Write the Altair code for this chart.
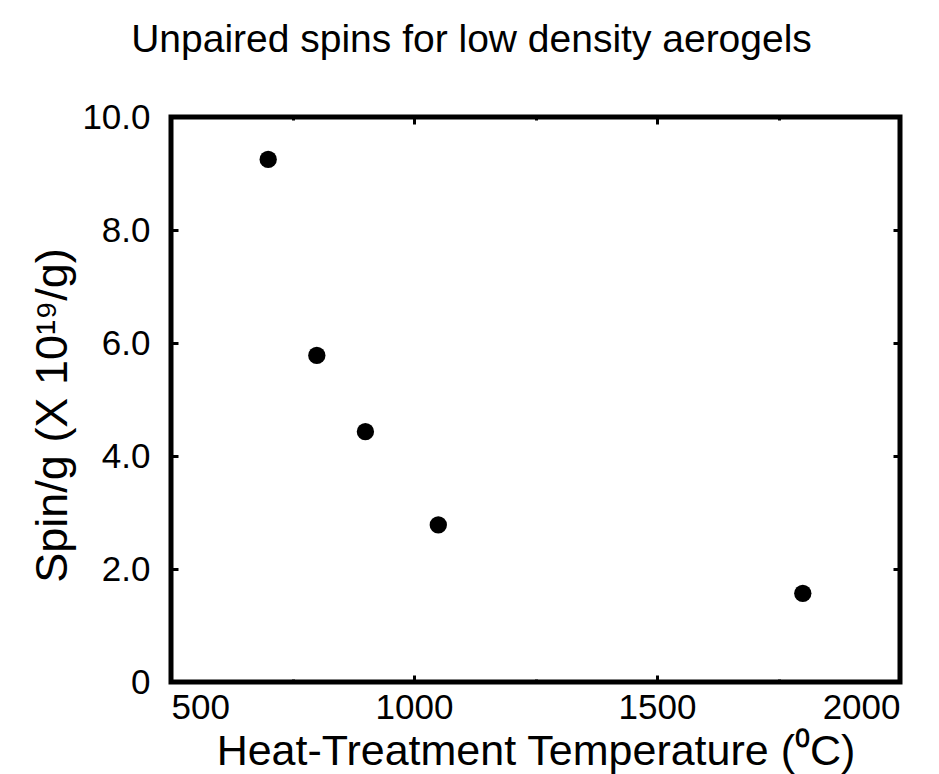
import altair as alt
import pandas as pd

temperature = [700, 800, 900, 1050, 1800]
spins = [9.25, 5.78, 4.43, 2.78, 1.57]

x_major = [500, 1000, 1500, 2000]
x_minor = [750, 1250, 1750]
y_major = [0, 2, 4, 6, 8, 10]

df = pd.DataFrame({"T": temperature, "S": spins})

FONT = "Liberation Sans"
W, H = 729, 565
LBL = 35
TTL = 43

xscale = alt.Scale(domain=[500, 2000], nice=False, zero=False)
yscale = alt.Scale(domain=[0, 10], nice=False, zero=False)

x_title = "Heat-Treatment Temperature (\u2070C)"
y_title = "Spin/g (X 10\u00b9\u2079/g)"


def ghost(xaxis, yaxis):
    return alt.Chart(df).mark_point(opacity=0).encode(
        x=alt.X("T:Q", scale=xscale, axis=xaxis),
        y=alt.Y("S:Q", scale=yscale, axis=yaxis),
    )


points = alt.Chart(df).mark_circle(size=300, color="black", opacity=1).encode(
    x=alt.X(
        "T:Q", scale=xscale,
        axis=alt.Axis(
            orient="bottom", values=x_major, format="d", title=x_title,
            tickSize=7, offset=-7, domain=False, tickColor="black", tickWidth=3,
            labelPadding=8, labelFontSize=LBL, labelFont=FONT, labelColor="black",
            titleFontSize=TTL, titleFont=FONT, titleFontWeight="normal", titleColor="black",
            titlePadding=5, grid=False,
        ),
    ),
    y=alt.Y(
        "S:Q", scale=yscale,
        axis=alt.Axis(
            orient="left", values=y_major, title=y_title,
            labelExpr="datum.value == 0 ? '0' : format(datum.value, '.1f')",
            tickSize=7, offset=-7, domain=False, tickColor="black", tickWidth=3,
            labelPadding=21, labelFontSize=LBL, labelFont=FONT, labelColor="black",
            titleFontSize=45, titleFont=FONT, titleFontWeight="normal", titleColor="black",
            titlePadding=6, titleY=298, grid=False,
        ),
    ),
)

no_y = alt.Axis(orient="left", values=[], labels=False, ticks=False, domain=False, title=None, grid=False)
no_x = alt.Axis(orient="bottom", values=[], labels=False, ticks=False, domain=False, title=None, grid=False)

layers = [
    points,
    ghost(alt.Axis(orient="bottom", values=x_minor, labels=False, tickSize=3, offset=-3, domain=False,
                   tickColor="black", tickWidth=3, title=None, grid=False), no_y),
    ghost(alt.Axis(orient="top", values=x_major, labels=False, tickSize=7, offset=-7, domain=False,
                   tickColor="black", tickWidth=3, title=None, grid=False), no_y),
    ghost(alt.Axis(orient="top", values=x_minor, labels=False, tickSize=3, offset=-3, domain=False,
                   tickColor="black", tickWidth=3, title=None, grid=False), no_y),
    ghost(no_x, alt.Axis(orient="right", values=y_major, labels=False, tickSize=7, offset=-7, domain=False,
                         tickColor="black", tickWidth=3, title=None, grid=False)),
]

chart = alt.layer(*layers).resolve_axis(x="independent", y="independent").properties(
    width=W, height=H,
    autosize=alt.AutoSizeParams(type="none"),
    padding={"left": 171, "top": 117, "right": 939 - 171 - W, "bottom": 774 - 117 - H},
    title=alt.TitleParams(
        "Unpaired spins for low density aerogels",
        font=FONT, fontSize=39, fontWeight="normal", color="black",
        anchor="middle", frame="group", dx=-64, offset=40,
    ),
).configure(background="white").configure_view(stroke="black", strokeWidth=5)

chart.save("out.html", embed_options={"renderer": "svg", "actions": False})
